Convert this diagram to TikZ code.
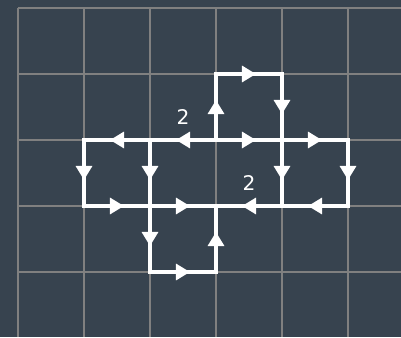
\documentclass[tikz,border=0pt]{standalone}
\usepackage{fontspec}
\setmainfont{DejaVu Sans}
\usetikzlibrary{arrows.meta,decorations.markings}
\definecolor{slate}{RGB}{55,67,79}
\definecolor{gridgray}{RGB}{128,128,128}
\begin{document}
\begin{tikzpicture}[
    x=1.32cm, y=-1.32cm,
    gridline/.style={draw=gridgray, line width=1.1pt},
    flow/.style={draw=white, line width=2.3pt, line cap=rect,
                 postaction={decorate, decoration={markings,
                 mark=at position 0.5 with
                 {\arrow[xshift=4pt]{Triangle[length=8pt, width=9pt]}}}}},
    num/.style={text=white, inner sep=0pt,
                font=\fontsize{11.5}{13}\selectfont}
]
    % background and frame
    \useasboundingbox[fill=slate] (-0.2727,-0.1212) rectangle (5.803,4.985);

    % grid
    \foreach \i in {0,...,5}
        \draw[gridline] (\i,0) -- (\i,4.985);
    \foreach \j in {0,...,4}
        \draw[gridline] (0,\j) -- (5.803,\j);

    % vertices
    \coordinate (n31) at (3,1);
    \coordinate (n41) at (4,1);
    \coordinate (n12) at (1,2);
    \coordinate (n22) at (2,2);
    \coordinate (n32) at (3,2);
    \coordinate (n42) at (4,2);
    \coordinate (n52) at (5,2);
    \coordinate (n13) at (1,3);
    \coordinate (n23) at (2,3);
    \coordinate (n33) at (3,3);
    \coordinate (n43) at (4,3);
    \coordinate (n53) at (5,3);
    \coordinate (n24) at (2,4);
    \coordinate (n34) at (3,4);

    % upper loop
    \draw[flow] (n32) -- (n31);
    \draw[flow] (n31) -- (n41);
    \draw[flow] (n41) -- (n42);

    % middle row
    \draw[flow] (n32) -- node[num, above=7.7pt] {2} (n22);
    \draw[flow] (n22) -- (n12);
    \draw[flow] (n32) -- (n42);
    \draw[flow] (n42) -- (n52);

    % downward links
    \draw[flow] (n12) -- (n13);
    \draw[flow] (n22) -- (n23);
    \draw[flow] (n42) -- (n43);
    \draw[flow] (n52) -- (n53);

    % lower row
    \draw[flow] (n13) -- (n23);
    \draw[flow] (n23) -- (n33);
    \draw[flow] (n43) -- node[num, above=7.7pt] {2} (n33);
    \draw[flow] (n53) -- (n43);

    % lower loop
    \draw[flow] (n23) -- (n24);
    \draw[flow] (n24) -- (n34);
    \draw[flow] (n34) -- (n33);

\end{tikzpicture}
\end{document}
